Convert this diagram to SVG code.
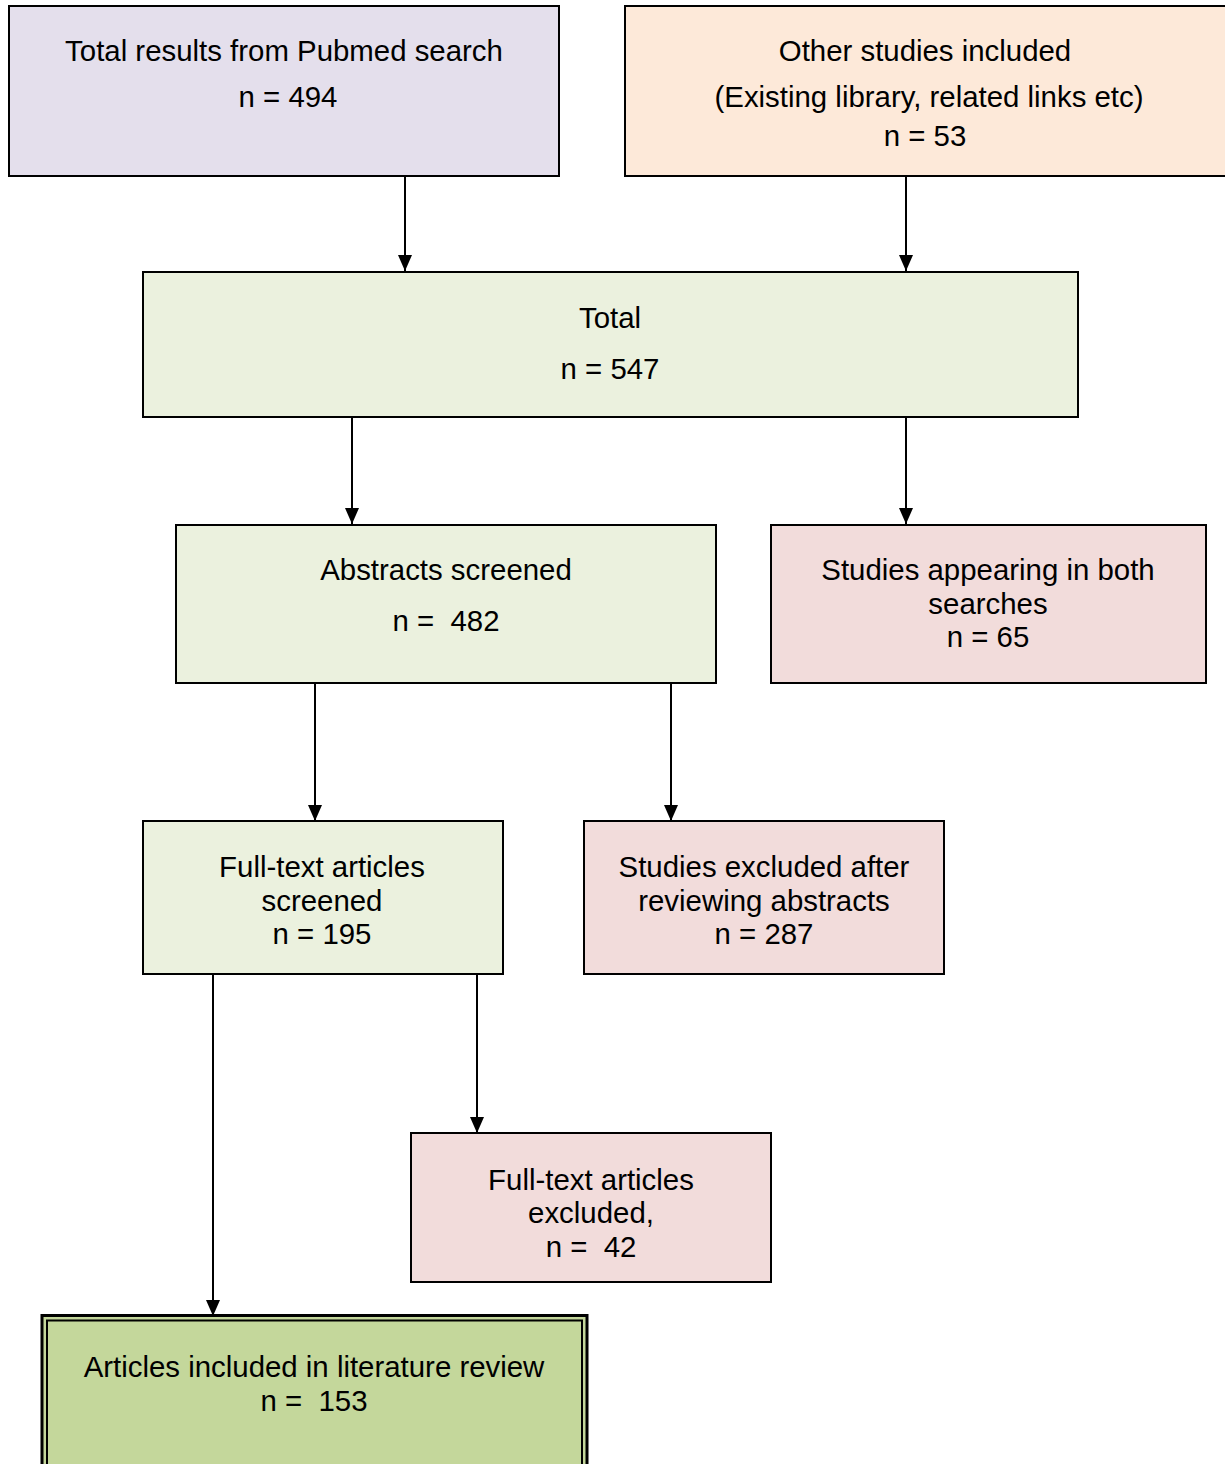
<svg xmlns="http://www.w3.org/2000/svg" width="1225" height="1464" viewBox="0 0 1225 1464">
<style>
.box{stroke:#000;stroke-width:2}
.t{font-family:"Liberation Sans",Arial,sans-serif;font-size:29.4px;fill:#000;text-anchor:middle}
.c{stroke:#000;stroke-width:2;fill:none;marker-end:url(#ah)}
</style>
<defs>
<marker id="ah" markerUnits="userSpaceOnUse" markerWidth="17" markerHeight="15" refX="16" refY="7" orient="auto">
<path d="M0,0 L16,7 L0,14 Z" fill="#000"/>
</marker>
</defs>
<rect width="1225" height="1464" fill="#fff"/>
<g id="connectors">
<line class="c" x1="405" y1="176" x2="405" y2="271"/>
<line class="c" x1="906" y1="176" x2="906" y2="271"/>
<line class="c" x1="352" y1="417" x2="352" y2="524"/>
<line class="c" x1="906" y1="417" x2="906" y2="524"/>
<line class="c" x1="315" y1="683" x2="315" y2="821"/>
<line class="c" x1="671" y1="683" x2="671" y2="821"/>
<line class="c" x1="213" y1="974" x2="213" y2="1316"/>
<line class="c" x1="477" y1="974" x2="477" y2="1133"/>
</g>
<g id="pubmed">
<rect class="box" x="9" y="6" width="550" height="170" fill="#E4DFEC"/>
<text class="t" x="284" y="61">Total results from Pubmed search</text>
<text class="t" x="288" y="107">n = 494</text>
</g>
<g id="other">
<rect class="box" x="625" y="6" width="602" height="170" fill="#FDE9D9"/>
<text class="t" x="925" y="61">Other studies included</text>
<text class="t" x="929" y="107">(Existing library, related links etc)</text>
<text class="t" x="925" y="146">n = 53</text>
</g>
<g id="total">
<rect class="box" x="143" y="272" width="935" height="145" fill="#EBF1DE"/>
<text class="t" x="610" y="328">Total</text>
<text class="t" x="610" y="379">n = 547</text>
</g>
<g id="abstracts">
<rect class="box" x="176" y="525" width="540" height="158" fill="#EBF1DE"/>
<text class="t" x="446" y="580">Abstracts screened</text>
<text class="t" x="446" y="631" xml:space="preserve">n =  482</text>
</g>
<g id="both">
<rect class="box" x="771" y="525" width="435" height="158" fill="#F2DCDB"/>
<text class="t" x="988" y="580">Studies appearing in both</text>
<text class="t" x="988" y="614">searches</text>
<text class="t" x="988" y="647">n = 65</text>
</g>
<g id="fulltext">
<rect class="box" x="143" y="821" width="360" height="153" fill="#EBF1DE"/>
<text class="t" x="322" y="877">Full-text articles</text>
<text class="t" x="322" y="911">screened</text>
<text class="t" x="322" y="944">n = 195</text>
</g>
<g id="excluded-abs">
<rect class="box" x="584" y="821" width="360" height="153" fill="#F2DCDB"/>
<text class="t" x="764" y="877">Studies excluded after</text>
<text class="t" x="764" y="911">reviewing abstracts</text>
<text class="t" x="764" y="944">n = 287</text>
</g>
<g id="excluded-ft">
<rect class="box" x="411" y="1133" width="360" height="149" fill="#F2DCDB"/>
<text class="t" x="591" y="1190">Full-text articles</text>
<text class="t" x="591" y="1223">excluded,</text>
<text class="t" x="591" y="1257" xml:space="preserve">n =  42</text>
</g>
<g id="included">
<rect x="42" y="1315.5" width="545" height="160" fill="#C4D79B" stroke="#000" stroke-width="3"/>
<rect x="47" y="1320.5" width="535" height="160" fill="none" stroke="#000" stroke-width="2"/>
<text class="t" x="314" y="1377">Articles included in literature review</text>
<text class="t" x="314" y="1411" xml:space="preserve">n =  153</text>
</g>
</svg>
